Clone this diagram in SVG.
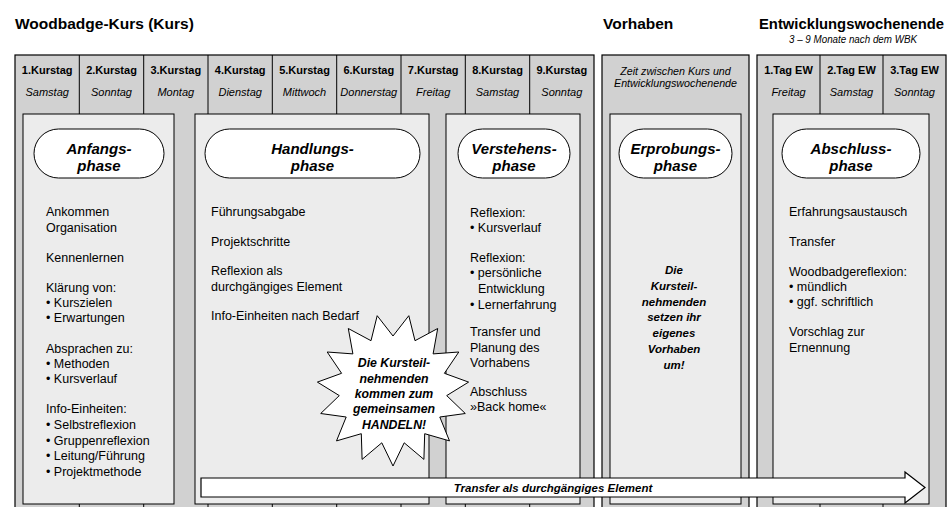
<svg xmlns="http://www.w3.org/2000/svg" width="951" height="507" viewBox="0 0 951 507">
<style>
text{font-family:"Liberation Sans",Arial,sans-serif;fill:#000}
.title{font-size:15.5px;font-weight:bold}
.sub{font-size:10px;font-style:italic}
.day{font-size:11px;font-weight:bold;text-anchor:middle}
.wd{font-size:11px;font-style:italic;text-anchor:middle}
.outer{fill:#d1d1d1;stroke:#000;stroke-width:1.2}
.div{stroke:#000;stroke-width:1}
.inner{fill:#ececec;stroke:#000;stroke-width:1}
.pill{fill:#fff;stroke:#000;stroke-width:1}
.ph{font-size:15px;font-weight:bold;font-style:italic;text-anchor:middle}
.b{font-size:12.5px}
.bi{font-size:11.5px;font-weight:bold;font-style:italic;text-anchor:middle}
.st{font-size:12.3px;font-weight:bold;font-style:italic;text-anchor:middle}
.star{fill:#fff;stroke:#000;stroke-width:1}
.arrow{fill:#fff;stroke:#000;stroke-width:1.2}
</style>
<rect width="951" height="507" fill="#fff"/>
<g id="titles">
<text class="title" x="15" y="29">Woodbadge-Kurs (Kurs)</text>
<text class="title" x="603" y="29">Vorhaben</text>
<text class="title" x="759" y="29" textLength="185" lengthAdjust="spacingAndGlyphs">Entwicklungswochenende</text>
<text class="sub" x="853" y="43" text-anchor="middle" textLength="128" lengthAdjust="spacingAndGlyphs">3 – 9 Monate nach dem WBK</text>
</g>
<g id="kurs-table">
<rect class="outer" x="15" y="55" width="579" height="460"/>
<path class="div" d="M79.3 55V515M143.7 55V515M208 55V515M272.3 55V515M336.7 55V515M401 55V515M465.3 55V515M529.7 55V515"/>
<text class="day" x="47.2" y="74">1.Kurstag</text><text class="wd" x="47.2" y="96">Samstag</text>
<text class="day" x="111.5" y="74">2.Kurstag</text><text class="wd" x="111.5" y="96">Sonntag</text>
<text class="day" x="175.8" y="74">3.Kurstag</text><text class="wd" x="175.8" y="96">Montag</text>
<text class="day" x="240.2" y="74">4.Kurstag</text><text class="wd" x="240.2" y="96">Dienstag</text>
<text class="day" x="304.5" y="74">5.Kurstag</text><text class="wd" x="304.5" y="96">Mittwoch</text>
<text class="day" x="368.8" y="74">6.Kurstag</text><text class="wd" x="368.8" y="96">Donnerstag</text>
<text class="day" x="433.2" y="74">7.Kurstag</text><text class="wd" x="433.2" y="96">Freitag</text>
<text class="day" x="497.5" y="74">8.Kurstag</text><text class="wd" x="497.5" y="96">Samstag</text>
<text class="day" x="561.8" y="74">9.Kurstag</text><text class="wd" x="561.8" y="96">Sonntag</text>
</g>
<g id="vorhaben-table">
<rect class="outer" x="602" y="55" width="147" height="460"/>
<text class="wd" x="675.5" y="75" style="font-size:10.7px">Zeit zwischen Kurs und</text>
<text class="wd" x="675.5" y="87" style="font-size:10.7px">Entwicklungswochenende</text>
</g>
<g id="ew-table">
<rect class="outer" x="757" y="55" width="189" height="460"/>
<path class="div" d="M820 55V515M883 55V515"/>
<text class="day" x="788.5" y="74">1.Tag EW</text><text class="wd" x="788.5" y="96">Freitag</text>
<text class="day" x="851.5" y="74">2.Tag EW</text><text class="wd" x="851.5" y="96">Samstag</text>
<text class="day" x="914.5" y="74">3.Tag EW</text><text class="wd" x="914.5" y="96">Sonntag</text>
</g>
<g id="anfangsphase">
<rect class="inner" x="23" y="114" width="151" height="390"/>
<rect class="pill" x="34" y="129" width="130" height="49" rx="24.5"/>
<text class="ph" x="99" y="154">Anfangs-</text>
<text class="ph" x="99" y="170.5">phase</text>
<text class="b" x="46" y="216">Ankommen</text>
<text class="b" x="46" y="232">Organisation</text>
<text class="b" x="46" y="262">Kennenlernen</text>
<text class="b" x="46" y="292">Klärung von:</text>
<text class="b" x="46" y="307">• Kurszielen</text>
<text class="b" x="46" y="322">• Erwartungen</text>
<text class="b" x="46" y="353">Absprachen zu:</text>
<text class="b" x="46" y="368">• Methoden</text>
<text class="b" x="46" y="383">• Kursverlauf</text>
<text class="b" x="46" y="413">Info-Einheiten:</text>
<text class="b" x="46" y="429">• Selbstreflexion</text>
<text class="b" x="46" y="445">• Gruppenreflexion</text>
<text class="b" x="46" y="460">• Leitung/Führung</text>
<text class="b" x="46" y="476">• Projektmethode</text>
</g>
<g id="handlungsphase">
<rect class="inner" x="195" y="114" width="234" height="390"/>
<rect class="pill" x="205" y="129" width="215" height="49" rx="24.5"/>
<text class="ph" x="312.5" y="154">Handlungs-</text>
<text class="ph" x="312.5" y="170.5">phase</text>
<text class="b" x="211" y="216">Führungsabgabe</text>
<text class="b" x="211" y="246">Projektschritte</text>
<text class="b" x="211" y="275">Reflexion als</text>
<text class="b" x="211" y="291">durchgängiges Element</text>
<text class="b" x="211" y="320">Info-Einheiten nach Bedarf</text>
</g>
<g id="verstehensphase">
<rect class="inner" x="446" y="114" width="134" height="390"/>
<rect class="pill" x="458" y="129" width="112" height="49" rx="24.5"/>
<text class="ph" x="514" y="154">Verstehens-</text>
<text class="ph" x="514" y="170.5">phase</text>
<text class="b" x="470" y="217">Reflexion:</text>
<text class="b" x="470" y="232">• Kursverlauf</text>
<text class="b" x="470" y="262">Reflexion:</text>
<text class="b" x="470" y="277">• persönliche</text>
<text class="b" x="478" y="293">Entwicklung</text>
<text class="b" x="470" y="309">• Lernerfahrung</text>
<text class="b" x="470" y="336">Transfer und</text>
<text class="b" x="470" y="352">Planung des</text>
<text class="b" x="470" y="367">Vorhabens</text>
<text class="b" x="470" y="396">Abschluss</text>
<text class="b" x="470" y="411">»Back home«</text>
</g>
<g id="erprobungsphase">
<rect class="inner" x="610" y="114" width="131" height="390"/>
<rect class="pill" x="619" y="129" width="113" height="49" rx="24.5"/>
<text class="ph" x="675.5" y="154">Erprobungs-</text>
<text class="ph" x="675.5" y="170.5">phase</text>
<text class="bi" x="674" y="274">Die</text>
<text class="bi" x="674" y="290">Kursteil-</text>
<text class="bi" x="674" y="306">nehmenden</text>
<text class="bi" x="674" y="321">setzen ihr</text>
<text class="bi" x="674" y="337">eigenes</text>
<text class="bi" x="674" y="353">Vorhaben</text>
<text class="bi" x="674" y="369">um!</text>
</g>
<g id="abschlussphase">
<rect class="inner" x="773" y="114" width="156" height="390"/>
<rect class="pill" x="782" y="129" width="138" height="49" rx="24.5"/>
<text class="ph" x="851" y="154">Abschluss-</text>
<text class="ph" x="851" y="170.5">phase</text>
<text class="b" x="789" y="216">Erfahrungsaustausch</text>
<text class="b" x="789" y="246">Transfer</text>
<text class="b" x="789" y="276">Woodbadgereflexion:</text>
<text class="b" x="789" y="291">• mündlich</text>
<text class="b" x="789" y="306">• ggf. schriftlich</text>
<text class="b" x="789" y="336">Vorschlag zur</text>
<text class="b" x="789" y="352">Ernennung</text>
</g>
<g id="star">
<polygon class="star" points="393,336 408.8,315.7 415,340.7 437.7,328.5 433.1,353.9 458.8,352 444.4,373.3 468.6,382.1 446.7,395.6 465.3,413.5 439.8,417 449.5,440.9 424.7,433.7 423.9,459.4 404.2,442.8 393,466 381.8,442.8 362.1,459.4 361.3,433.7 336.5,440.9 346.2,417 320.7,413.5 339.3,395.6 317.4,382.1 341.6,373.3 327.2,352 352.9,353.9 348.3,328.5 371,340.7 377.2,315.7"/>
<text class="st" x="394" y="367">Die Kursteil-</text>
<text class="st" x="394" y="383">nehmenden</text>
<text class="st" x="394" y="398">kommen zum</text>
<text class="st" x="394" y="413">gemeinsamen</text>
<text class="st" x="394" y="429">HANDELN!</text>
</g>
<g id="connectors">
<polygon class="arrow" points="201,478 905,478 905,472 925,487.5 905,503 905,497 201,497"/>
<text class="bi" x="553" y="492">Transfer als durchgängiges Element</text>
</g>
</svg>
